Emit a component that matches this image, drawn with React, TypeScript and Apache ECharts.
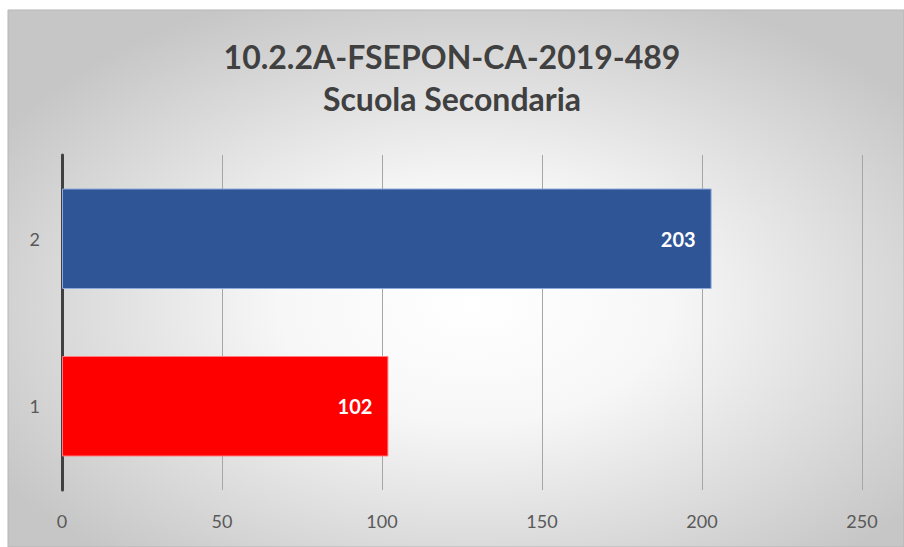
import React, { useEffect, useRef } from "react";
import * as echarts from "echarts";

const categories = ["1", "2"];
const values = [102, 203];
const barColors = ["#FF0000", "#2F5597"];
const barBorders = ["#FF7C80", "#8FAADC"];
const titleLines = ["10.2.2A-FSEPON-CA-2019-489", "Scuola Secondaria"];
const xMin = 0;
const xMax = 250;
const xStep = 50;

export default function App() {
  const ref = useRef<HTMLDivElement>(null);
  useEffect(() => {
    document.body.style.margin = "0";
    const chart = echarts.init(ref.current!, null, { renderer: "svg" });
    chart.setOption({
      animation: false,
      textStyle: { fontFamily: "Lato, 'Open Sans', sans-serif" },
      graphic: [
        {
          type: "rect",
          z: -10,
          silent: true,
          shape: { x: 8, y: 10, width: 896, height: 537 },
          style: {
            fill: new echarts.graphic.RadialGradient(0.52, 0.55, 0.62, [
              { offset: 0, color: "#ffffff" },
              { offset: 0.35, color: "#f7f7f7" },
              { offset: 1, color: "#c6c6c6" },
            ]),
            stroke: "#b5b5b5",
            lineWidth: 1,
          },
        },
        {
          type: "text",
          left: "center",
          top: 40,
          style: {
            text: titleLines[0],
            font: "bold 32px Lato, 'Open Sans', sans-serif",
            fill: "#404040",
          },
        },
        {
          type: "text",
          left: "center",
          top: 82,
          style: {
            text: titleLines[1],
            font: "bold 32px Lato, 'Open Sans', sans-serif",
            fill: "#404040",
          },
        },
      ],
      grid: { left: 62, right: 42, top: 155, bottom: 57, containLabel: false },
      xAxis: {
        type: "value",
        min: xMin,
        max: xMax,
        interval: xStep,
        axisLine: { show: false },
        axisTick: { show: false },
        axisLabel: { color: "#595959", fontSize: 18, margin: 22 },
        splitLine: { show: true, lineStyle: { color: "#a6a6a6", width: 1 } },
      },
      yAxis: {
        type: "category",
        data: categories,
        axisLine: { show: true, lineStyle: { color: "#404040", width: 3 } },
        axisTick: { show: false },
        axisLabel: { color: "#595959", fontSize: 18, margin: 22 },
      },
      series: [
        {
          type: "bar",
          barWidth: "60%",
          data: values.map((v, i) => ({
            value: v,
            itemStyle: { color: barColors[i], borderColor: barBorders[i], borderWidth: 1 },
          })),
          label: {
            show: true,
            position: "insideRight",
            distance: 16,
            color: "#ffffff",
            fontWeight: "bold",
            fontSize: 20,
          },
        },
      ],
    });
    return () => chart.dispose();
  }, []);
  return <div ref={ref} style={{ width: 904, height: 547 }} />;
}
